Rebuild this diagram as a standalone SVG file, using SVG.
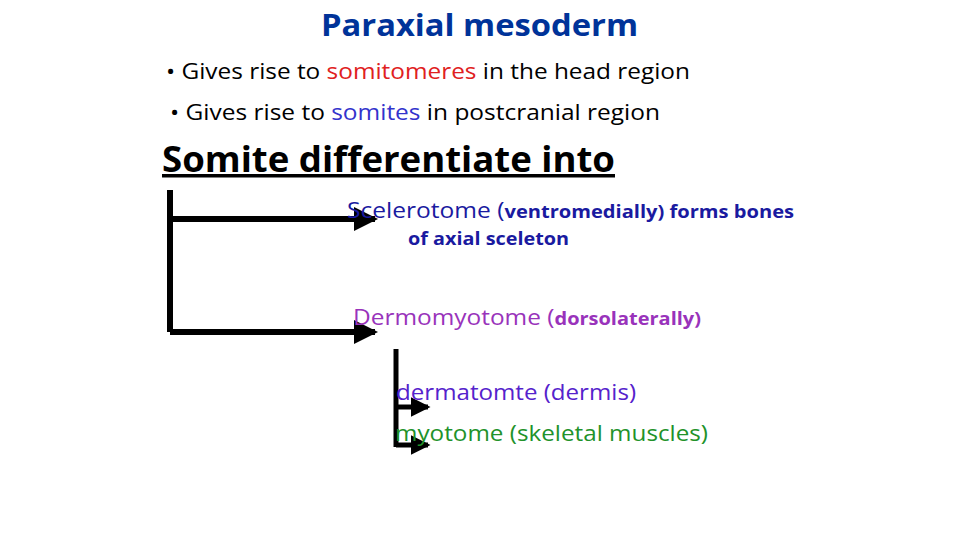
<svg xmlns="http://www.w3.org/2000/svg" width="960" height="540" viewBox="0 0 960 540">
<style>
text{font-family:"Open Sans","Liberation Sans",sans-serif}
.b{font-size:22px;fill:#000}
.ln{stroke:#000;stroke-width:6;fill:none}
.sm{stroke:#000;stroke-width:5;fill:none}
</style>
<defs>
<marker id="ah" markerWidth="4" markerHeight="4" refX="3.5" refY="2" orient="auto" markerUnits="strokeWidth"><path d="M0,0 L4,2 L0,4 z" fill="#000"/></marker>
</defs>
<rect width="960" height="540" fill="#fff"/>
<text x="321" y="36" textLength="317" lengthAdjust="spacingAndGlyphs" font-size="31" font-weight="bold" fill="#003399">Paraxial mesoderm</text>
<text x="166" y="79" textLength="524" lengthAdjust="spacingAndGlyphs" class="b">• Gives rise to <tspan fill="#e02020">somitomeres</tspan> in the head region</text>
<text x="170" y="120" textLength="490" lengthAdjust="spacingAndGlyphs" class="b">•  Gives rise to <tspan fill="#3333cc">somites</tspan> in postcranial region</text>
<text x="162" y="172" textLength="453" lengthAdjust="spacingAndGlyphs" font-size="35" font-weight="bold" text-decoration="underline" fill="#000">Somite differentiate into</text>
<g id="connectors">
<path class="ln" d="M170,190 V332"/>
<path class="ln" d="M170,219 H375" marker-end="url(#ah)"/>
<path class="ln" d="M170,332 H375" marker-end="url(#ah)"/>
<path class="sm" d="M396,349 V447"/>
<path class="sm" d="M396,407 H428" marker-end="url(#ah)"/>
<path class="sm" d="M396,445 H428" marker-end="url(#ah)"/>
</g>
<g id="sclerotome"><text x="347" y="218" textLength="447" lengthAdjust="spacingAndGlyphs" font-size="22" fill="#1a1aa0">Scelerotome (<tspan font-weight="bold" font-size="18">ventromedially) forms bones</tspan></text>
<text x="408" y="245" textLength="161" lengthAdjust="spacingAndGlyphs" font-size="18" font-weight="bold" fill="#1a1aa0">of axial sceleton</text></g>
<g id="dermomyotome"><text x="353" y="325" textLength="348" lengthAdjust="spacingAndGlyphs" font-size="22" fill="#9933bb">Dermomyotome (<tspan font-weight="bold" font-size="18">dorsolaterally)</tspan></text></g>
<g id="dermatome"><text x="396" y="400" textLength="240" lengthAdjust="spacingAndGlyphs" font-size="22" fill="#5522cc">dermatomte (dermis)</text></g>
<g id="myotome"><text x="395" y="441" textLength="313" lengthAdjust="spacingAndGlyphs" font-size="22" fill="#22922a">myotome (skeletal muscles)</text></g>
</svg>
